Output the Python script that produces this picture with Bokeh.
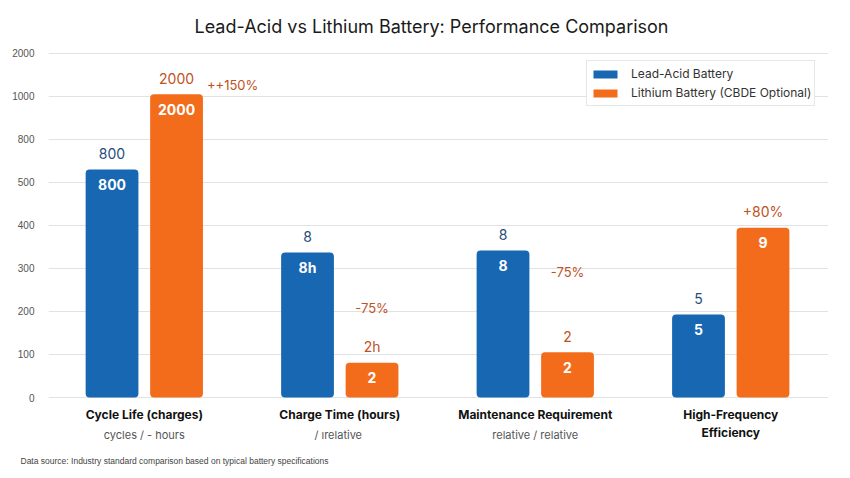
from bokeh.plotting import figure
from bokeh.models import ColumnDataSource, FixedTicker, Range1d, Title
from bokeh.core.properties import value
from bokeh.transform import dodge
from bokeh.embed import file_html
from bokeh.resources import INLINE

# ---- data ----
categories = ["Cycle Life (charges)", "Charge Time (hours)",
              "Maintenance Requirement", "High-Frequency\nEfficiency"]
subtitles = ["cycles / - hours", "/  \u0131relative", "relative / relative", ""]
lead_values = [530, 337, 342, 193]
lithium_values = [705, 81, 105, 395]
lead_top_labels = ["800", "8", "8", "5"]
lead_bar_labels = ["800", "8h", "8", "5"]
lithium_top_labels = ["2000", "2h", "2", "+80%"]
lithium_bar_labels = ["2000", "2", "2", "9"]
y_ticks = [0, 100, 200, 300, 400, 500, 600, 700, 800]
y_tick_labels = ["0", "100", "200", "300", "400", "500", "800", "1000", "2000"]
change_labels = ["++150%", "-75%", "-75%"]

BLUE = "#1767b3"
ORANGE = "#f36c1c"
BLUE_TXT = "#1f4e7a"
ORANGE_TXT = "#c0521e"
FONT = "Inter"

x = list(range(len(categories)))
src = ColumnDataSource(dict(
    x=x, lead=lead_values, lith=lithium_values,
    lt=lead_top_labels, lb=lead_bar_labels,
    it=lithium_top_labels, ib=lithium_bar_labels,
    cat=categories, sub=subtitles, zero=[0] * len(x),
))

p = figure(width=850, height=478,
           x_range=Range1d(-0.49, 3.5), y_range=Range1d(-118.6, 830.2),
           output_backend="svg", toolbar_location=None,
           min_border_left=48, min_border_right=22,
           min_border_top=40, min_border_bottom=30)
p.outline_line_color = None
p.background_fill_color = "white"
p.border_fill_color = "white"

DW = 0.165
BW = 0.27
p.vbar(x=dodge("x", -DW, range=p.x_range), top="lead", width=BW, source=src,
       fill_color=BLUE, line_color=None, border_radius=4,
       legend_label="Lead-Acid Battery")
p.vbar(x=dodge("x", DW, range=p.x_range), top="lith", width=BW, source=src,
       fill_color=ORANGE, line_color=None, border_radius=4,
       legend_label="Lithium Battery (CBDE Optional)")

# labels above bars
p.text(x=dodge("x", -DW, range=p.x_range), y="lead", text="lt", source=src,
       text_align="center", text_baseline="middle", y_offset=-16,
       text_font=value(FONT), text_font_size="14px", text_color=BLUE_TXT)
p.text(x=dodge("x", DW, range=p.x_range), y="lith", text="it", source=src,
       text_align="center", text_baseline="middle", y_offset=-16,
       text_font=value(FONT), text_font_size="14px", text_color=ORANGE_TXT)
# labels inside bars
p.text(x=dodge("x", -DW, range=p.x_range), y="lead", text="lb", source=src,
       text_align="center", text_baseline="middle", y_offset=15,
       text_font=value(FONT), text_font_size="14px", text_font_style="bold",
       text_color="white")
p.text(x=dodge("x", DW, range=p.x_range), y="lith", text="ib", source=src,
       text_align="center", text_baseline="middle", y_offset=15,
       text_font=value(FONT), text_font_size="14px", text_font_style="bold",
       text_color="white")

# change annotations
p.text(x=dodge("x", DW + BW / 2, range=p.x_range), y="y", text="t",
       source=ColumnDataSource(dict(x=x[:1], y=lithium_values[:1], t=change_labels[:1])),
       text_align="left", text_baseline="middle", x_offset=4, y_offset=-9,
       text_font=value(FONT), text_font_size="13px", text_color=ORANGE_TXT)
p.text(x=dodge("x", DW, range=p.x_range), y="y", text="t",
       source=ColumnDataSource(dict(x=x[1:2], y=lithium_values[1:2], t=change_labels[1:2])),
       text_align="center", text_baseline="middle", y_offset=-55,
       text_font=value(FONT), text_font_size="13px", text_color=ORANGE_TXT)
p.text(x=dodge("x", DW, range=p.x_range), y="y", text="t",
       source=ColumnDataSource(dict(x=x[2:3], y=lithium_values[2:3], t=change_labels[2:3])),
       text_align="center", text_baseline="middle", y_offset=-80,
       text_font=value(FONT), text_font_size="13px", text_color=ORANGE_TXT)

# category labels
p.text(x="x", y="zero", text="cat", source=src, text_align="center",
       text_baseline="top", y_offset=9, text_line_height=1.25,
       text_font=value(FONT), text_font_size="12px", text_font_style="bold",
       text_color="#111111")
p.text(x="x", y="zero", text="sub", source=src, text_align="center",
       text_baseline="middle", y_offset=37,
       text_font=value(FONT), text_font_size="11px", text_color="#555555")

# axes and grid
p.xaxis.visible = False
p.xgrid.visible = False
p.yaxis.ticker = FixedTicker(ticks=y_ticks)
p.yaxis.major_label_overrides = dict(zip(y_ticks, y_tick_labels))
p.yaxis.axis_line_color = None
p.yaxis.major_tick_line_color = None
p.yaxis.minor_tick_line_color = None
p.yaxis.major_label_text_font_size = "10px"
p.yaxis.major_label_text_color = "#555555"
p.yaxis.major_label_text_font = "Liberation Sans"
p.yaxis.major_label_standoff = 8
p.ygrid.ticker = FixedTicker(ticks=y_ticks)
p.ygrid.grid_line_color = "#e2e2e2"

# title
p.title.text = "Lead-Acid vs Lithium Battery: Performance Comparison"
p.title.align = "left"
p.title.offset = 146
p.title.standoff = 7
p.title.text_font = FONT
p.title.text_font_size = "18px"
p.title.text_font_style = "normal"
p.title.text_color = "#1a1a1a"

p.add_layout(Title(text="Data source: Industry standard comparison based on typical battery specifications",
                   align="left", text_font="Liberation Sans", text_font_size="8.5px",
                   text_font_style="normal", text_color="#444444", offset=-28), "below")

# legend
lg = p.legend[0]
lg.location = (538, 342)
lg.label_text_font = FONT
lg.label_text_font_size = "12px"
lg.label_text_color = "#333333"
lg.glyph_width = 30
lg.glyph_height = 10
lg.label_height = 19
lg.label_standoff = 11
lg.padding = 3
lg.spacing = 0
lg.border_line_color = "#d0d0d0"
lg.background_fill_color = "white"
lg.background_fill_alpha = 1.0

open("out.html", "w").write(file_html(p, INLINE))
